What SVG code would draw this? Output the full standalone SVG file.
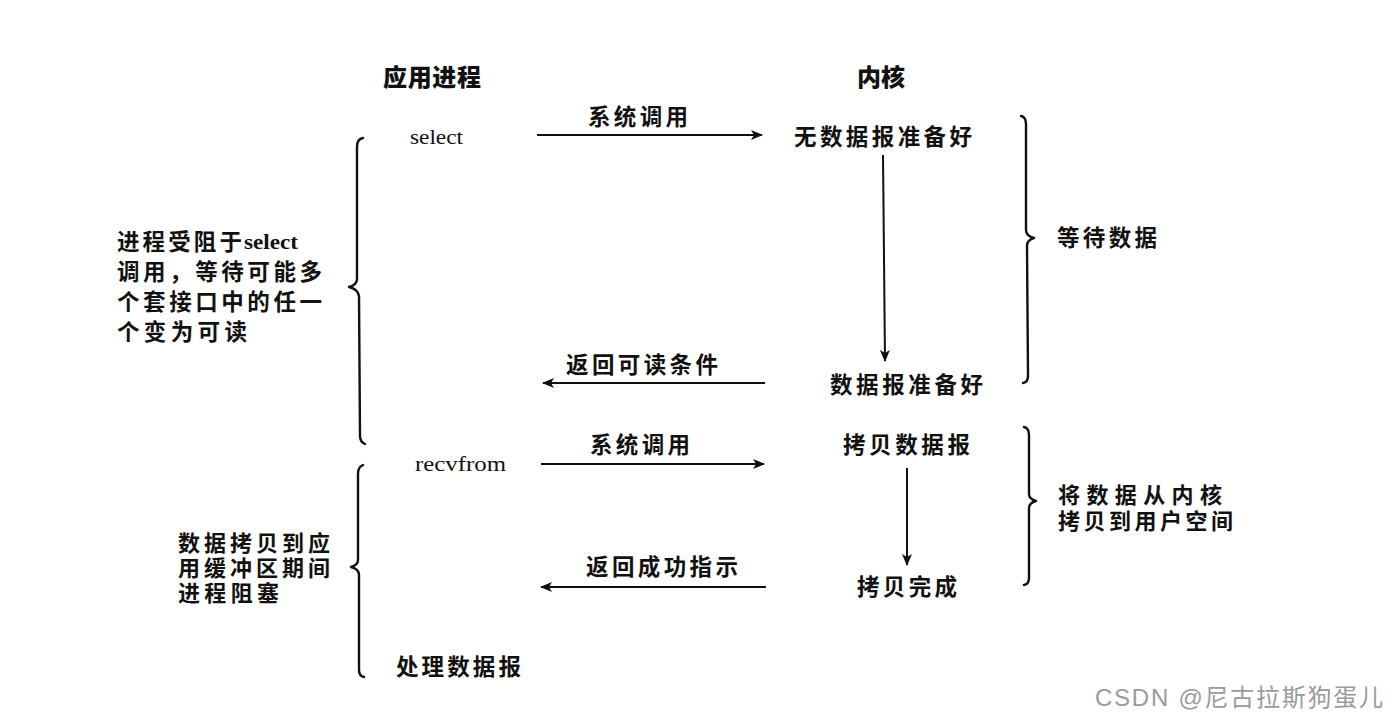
<svg xmlns="http://www.w3.org/2000/svg" width="1398" height="726" viewBox="0 0 1398 726">
<style>
.cj{font-family:"Liberation Sans","Noto Sans CJK SC","Noto Sans CJK JP",sans-serif;font-weight:700;font-size:22.5px;fill:#111}
.tt{font-size:22px}
.hd{font-family:"Liberation Sans","Noto Sans CJK SC","Noto Sans CJK JP",sans-serif;font-weight:900;font-size:24px;fill:#111}
.sf{font-family:"Liberation Serif",serif;font-size:21px;fill:#111}
.ln{stroke:#111;stroke-width:2;fill:none}
.br{stroke:#111;stroke-width:2.4;fill:none;stroke-linecap:round;stroke-linejoin:round}
.wm{font-family:"Liberation Sans","Noto Sans CJK SC",sans-serif;font-size:24px;fill:#9a9a9a}
</style>
<defs>
<marker id="ah" viewBox="0 0 12 10" refX="11" refY="5" markerWidth="12" markerHeight="10" markerUnits="userSpaceOnUse" orient="auto">
<path d="M0,0 L12,5 L0,10 L3,5 Z" fill="#111"/>
</marker>
</defs>
<rect width="1398" height="726" fill="#fff"/>

<g id="headers">
<text class="hd" x="383" y="86" textLength="98" lengthAdjust="spacing">应用进程</text>
<text class="hd" x="857" y="86" textLength="48" lengthAdjust="spacing">内核</text>
</g>

<g id="app">
<text class="sf" x="410" y="144" textLength="53" lengthAdjust="spacingAndGlyphs">select</text>
<text class="sf" x="415" y="471" textLength="91" lengthAdjust="spacingAndGlyphs">recvfrom</text>
<text class="cj" x="396" y="675" textLength="125" lengthAdjust="spacing">处理数据报</text>
</g>

<g id="kernel">
<text class="cj" x="794" y="145" textLength="178" lengthAdjust="spacing">无数据报准备好</text>
<text class="cj" x="830" y="393" textLength="153" lengthAdjust="spacing">数据报准备好</text>
<text class="cj" x="843" y="453" textLength="127" lengthAdjust="spacing">拷贝数据报</text>
<text class="cj" x="857" y="595" textLength="100" lengthAdjust="spacing">拷贝完成</text>
</g>

<g id="labels">
<text class="cj" x="588" y="125" textLength="100" lengthAdjust="spacing">系统调用</text>
<text class="cj" x="566" y="373" textLength="152" lengthAdjust="spacing">返回可读条件</text>
<text class="cj" x="590" y="453" textLength="100" lengthAdjust="spacing">系统调用</text>
<text class="cj" x="586" y="575" textLength="152" lengthAdjust="spacing">返回成功指示</text>
</g>

<g id="left-notes">
<text class="cj" x="117" y="250" textLength="125" lengthAdjust="spacing">进程受阻于</text>
<text class="sf" x="244" y="249" textLength="54" lengthAdjust="spacingAndGlyphs" font-weight="700">select</text>
<text class="cj" x="117" y="280" textLength="205" lengthAdjust="spacing">调用，等待可能多</text>
<text class="cj" x="117" y="310" textLength="205" lengthAdjust="spacing">个套接口中的任一</text>
<text class="cj" x="117" y="340" textLength="130" lengthAdjust="spacing">个变为可读</text>
<text class="cj tt" x="178" y="551" textLength="152" lengthAdjust="spacing">数据拷贝到应</text>
<text class="cj tt" x="178" y="576" textLength="152" lengthAdjust="spacing">用缓冲区期间</text>
<text class="cj tt" x="178" y="601" textLength="101" lengthAdjust="spacing">进程阻塞</text>
</g>

<g id="right-notes">
<text class="cj" x="1057" y="246" textLength="100" lengthAdjust="spacing">等待数据</text>
<text class="cj tt" x="1058" y="503" textLength="164" lengthAdjust="spacing">将数据从内核</text>
<text class="cj tt" x="1058" y="529" textLength="175" lengthAdjust="spacing">拷贝到用户空间</text>
</g>

<g id="braces">
<path class="br" d="M363 138 Q357 139 357 147 L357 279 Q357 285 349 287 Q358 289 359 296 L360 436 Q360 442 365 444"/>
<path class="br" d="M363 465 Q358 467 358 474 L358 560 Q358 565 351 567 Q359 569 359 575 L359 670 Q359 676 364 677"/>
<path class="br" d="M1021 116 Q1026 117 1026 124 L1026 230 Q1026 236 1034 238 Q1027 240 1027 246 L1028 376 Q1028 382 1023 383"/>
<path class="br" d="M1024 427 Q1029 428 1029 435 L1029 494 Q1029 499 1036 501 Q1029 503 1029 508 L1029 578 Q1029 584 1024 585"/>
</g>

<g id="connectors">
<line class="ln" x1="537" y1="135" x2="762" y2="135" marker-end="url(#ah)"/>
<line class="ln" x1="765" y1="383" x2="543" y2="383" marker-end="url(#ah)"/>
<line class="ln" x1="541" y1="464" x2="764" y2="464" marker-end="url(#ah)"/>
<line class="ln" x1="766" y1="587" x2="541" y2="587" marker-end="url(#ah)"/>
<line class="ln" x1="883" y1="155" x2="885" y2="361" marker-end="url(#ah)"/>
<line class="ln" x1="907" y1="468" x2="907" y2="565" marker-end="url(#ah)"/>
</g>

<text class="wm" x="1095" y="706" textLength="288" lengthAdjust="spacing">CSDN @尼古拉斯狗蛋儿</text>
</svg>
